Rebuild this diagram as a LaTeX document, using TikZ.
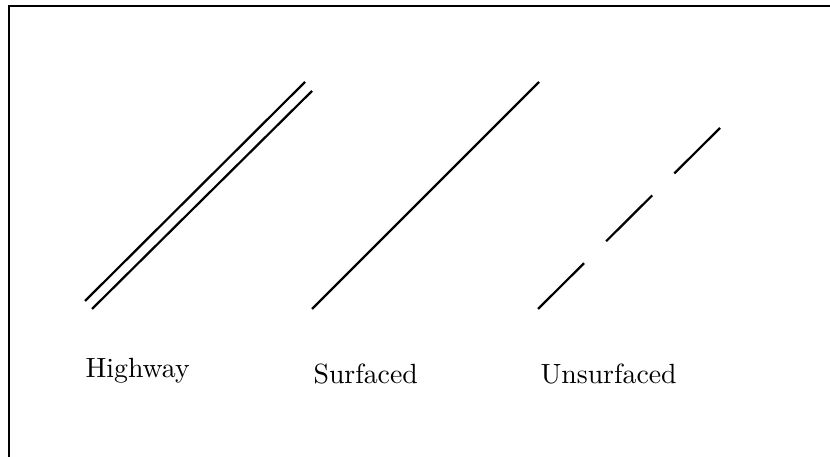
\documentclass[tikz,border=0pt]{standalone}
\usepackage{tikz}
\usetikzlibrary{positioning}

\begin{document}
\begin{tikzpicture}[x=0.01265cm,y=-0.01265cm,font=\normalsize]
    \tikzstyle{road}=[line width=0.8pt]
    \tikzstyle{lbl}=[inner sep=0pt,anchor=base west]
    \useasboundingbox (0,0) rectangle (830,457);
    % frame
    \draw[thin] (9,470) -- (9,6) -- (840,6);
    % highway: two parallel lines
    \coordinate (h1a) at (85,301);  \coordinate (h1b) at (305,82);
    \coordinate (h2a) at (92,309);  \coordinate (h2b) at (312,91);
    \draw[road] (h1a) -- (h1b);
    \draw[road] (h2a) -- (h2b);
    % surfaced
    \coordinate (sa) at (312,309);  \coordinate (sb) at (539,82);
    \draw[road] (sa) -- (sb);
    % unsurfaced
    \coordinate (ua) at (538,309);  \coordinate (ub) at (720,128);
    \draw[road,dash pattern=on 23.4pt off 11.2pt] (ua) -- (ub);
    % labels
    \node[lbl] (hw) at (85,378)  {Highway};
    \node[lbl] (sf) at (313,384) {Surfaced};
    \node[lbl] (us) at (540,384) {Unsurfaced};
  \end{tikzpicture}
\end{document}
